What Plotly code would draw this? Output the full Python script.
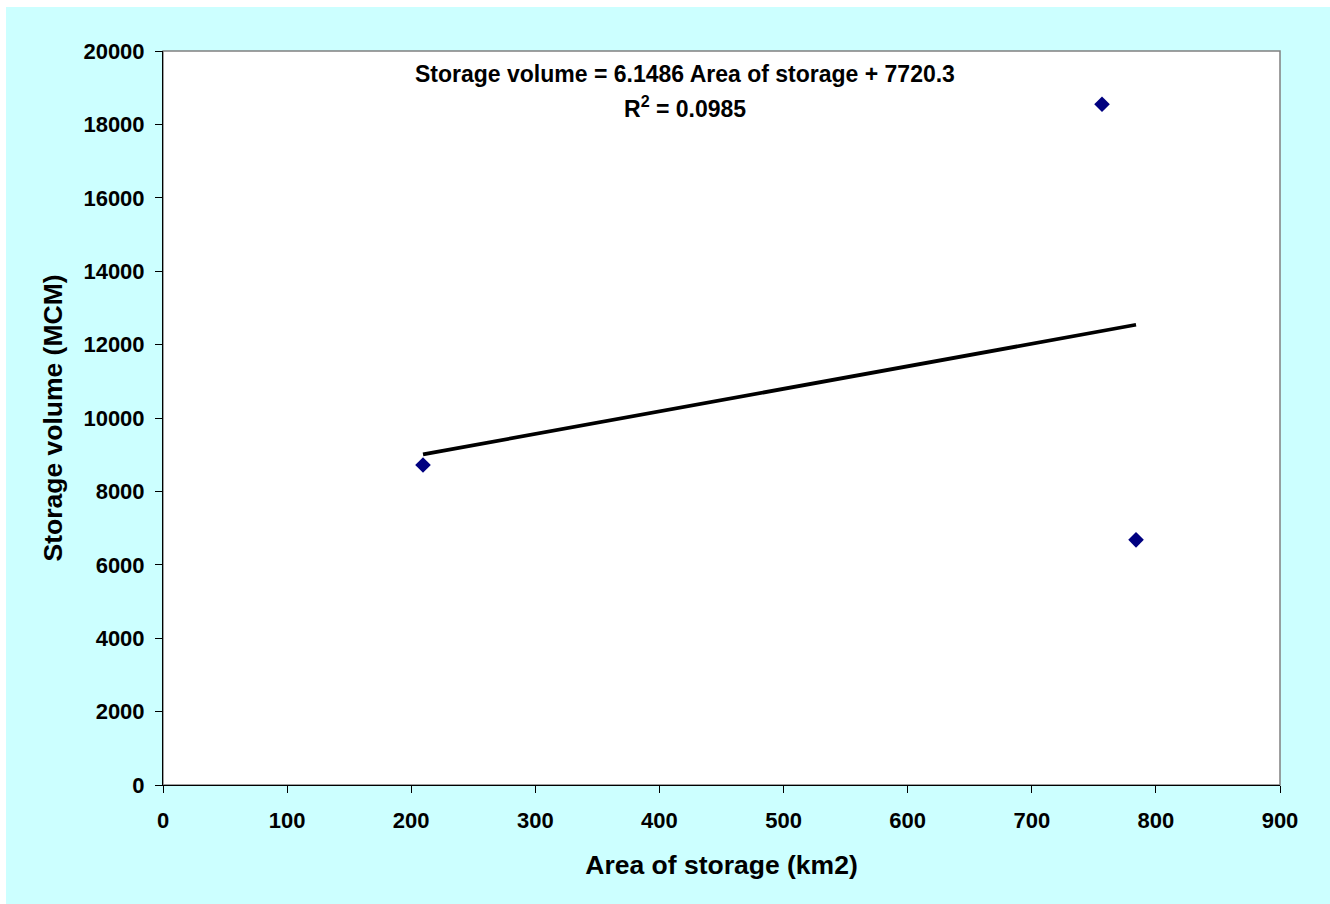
import plotly.graph_objects as go

# Data
area_km2 = [209.5, 756.6, 784.0]
storage_mcm = [8720, 18550, 6680]
slope = 6.1486
intercept = 7720.3
r_squared = 0.0985
x_ticks = [0, 100, 200, 300, 400, 500, 600, 700, 800, 900]
y_ticks = [0, 2000, 4000, 6000, 8000, 10000, 12000, 14000, 16000, 18000, 20000]

W, H = 1330, 904
L, R, T, B = 163, 1280, 51, 785
pw, ph = R - L, B - T

xmin, xmax = min(area_km2), max(area_km2)
trend_x = [xmin, xmax]
trend_y = [slope * v + intercept for v in trend_x]

fig = go.Figure()
fig.add_trace(go.Scatter(x=trend_x, y=trend_y, mode="lines",
                         line=dict(color="black", width=3.8), showlegend=False))
fig.add_trace(go.Scatter(x=area_km2, y=storage_mcm, mode="markers",
                         marker=dict(symbol="diamond", color="#000080", size=12,
                                     line=dict(width=0)), showlegend=False))

font = "Liberation Sans, Arial, sans-serif"
fig.update_layout(
    width=W, height=H,
    margin=dict(l=L, r=W - R, t=T, b=H - B, pad=0),
    paper_bgcolor="#CCFFFF",
    plot_bgcolor="white",
    font=dict(family=font, color="black", size=22),
    xaxis=dict(range=[0, 900], tickvals=x_ticks, tickformat="d", ticks="outside", ticklen=7,
               tickcolor="black", showline=True, linecolor="black", linewidth=1,
               showgrid=False, zeroline=False, mirror=False, ticklabelstandoff=9,
               tickfont=dict(family=font, size=22, weight="bold"),
               title=dict(text="<b>Area of storage (km2)</b>", font=dict(size=26.5), standoff=23)),
    yaxis=dict(range=[0, 20000], tickvals=y_ticks, tickformat="d", ticks="outside", ticklen=7,
               tickcolor="black", showline=True, linecolor="black", linewidth=1,
               showgrid=False, zeroline=False, mirror=False, ticklabelstandoff=6,
               tickfont=dict(family=font, size=22, weight="bold"),
               title=dict(text="<b>Storage volume (MCM)</b>", font=dict(size=26.5), standoff=13)),
    shapes=[
        dict(type="rect", xref="paper", yref="paper", x0=0, x1=1, y0=0, y1=1,
             line=dict(color="#808080", width=1.5), layer="below"),
        # white strips along the top and left edge of the canvas
        dict(type="rect", xref="paper", yref="paper",
             x0=(0 - L) / pw, x1=(W - L) / pw, y0=(B - 7) / ph, y1=(B - 0) / ph,
             fillcolor="white", line=dict(width=0), layer="below"),
        dict(type="rect", xref="paper", yref="paper",
             x0=(0 - L) / pw, x1=(6 - L) / pw, y0=(B - H) / ph, y1=(B - 0) / ph,
             fillcolor="white", line=dict(width=0), layer="below"),
    ],
    annotations=[
        dict(xref="paper", yref="paper", x=(685 - L) / pw, y=(B - 74) / ph,
             text="<b>Storage volume = %.4f Area of storage + %.1f</b>" % (slope, intercept),
             showarrow=False, xanchor="center", yanchor="middle",
             font=dict(family=font, size=23)),
        dict(xref="paper", yref="paper", x=(685 - L) / pw, y=(B - 107) / ph,
             text="<b>R<sup>2</sup> = %.4f</b>" % r_squared,
             showarrow=False, xanchor="center", yanchor="middle",
             font=dict(family=font, size=23)),
    ],
)
fig.write_html("out.html", config={"displayModeBar": False},
               post_script="document.body.style.margin='0';document.body.style.overflow='hidden';document.body.style.background='#CCFFFF';")
